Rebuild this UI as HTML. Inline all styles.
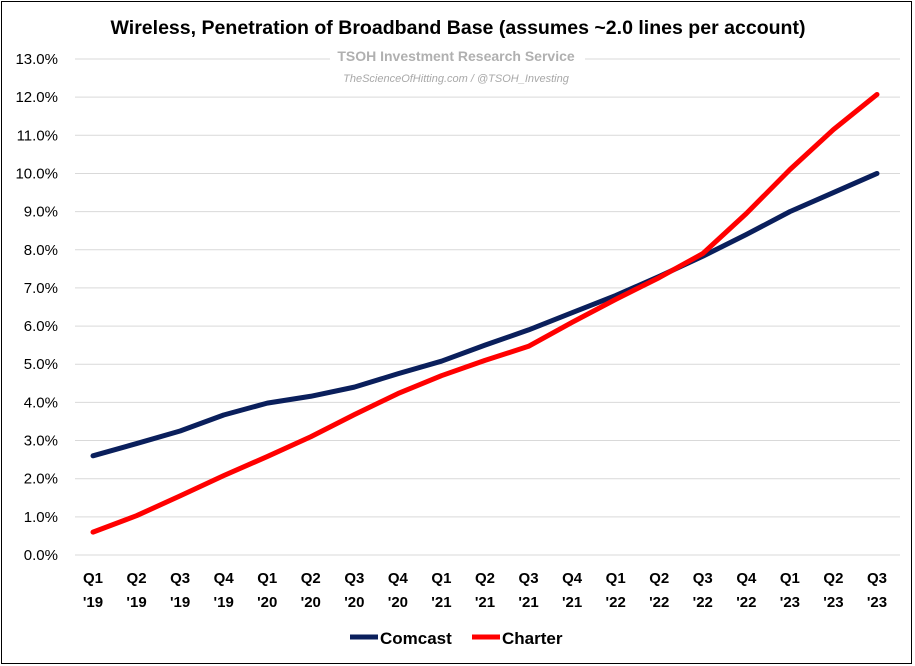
<!DOCTYPE html>
<html><head><meta charset="utf-8"><style>
body{margin:0;background:#fff;}
svg{display:block;font-family:"Liberation Sans Narrow","Liberation Sans",sans-serif;}
</style></head><body>
<svg id="c" width="915" height="666">
<rect x="1.5" y="1.5" width="910" height="662" fill="#fff" stroke="#000" stroke-width="1"/>
<text x="458" y="34" text-anchor="middle" font-size="19" font-weight="bold" textLength="695" lengthAdjust="spacingAndGlyphs" fill="#000">Wireless, Penetration of Broadband Base (assumes ~2.0 lines per account)</text>
<g id="grid"></g>
<g id="yl"></g>
<rect x="330" y="45" width="255" height="48" fill="#fff"/>
<text x="456" y="61" text-anchor="middle" font-size="14" font-weight="bold" fill="#b0b0b0">TSOH Investment Research Service</text>
<text x="456" y="82" text-anchor="middle" font-size="11" font-style="italic" fill="#a8a8a8">TheScienceOfHitting.com / @TSOH_Investing</text>
<g id="xl"></g>
<g id="lines"></g>
<g>
<line x1="350" y1="637" x2="378" y2="637" stroke="#0a1f5c" stroke-width="5"/>
<text x="380" y="644" font-size="17" font-weight="bold" fill="#000">Comcast</text>
<line x1="472" y1="637" x2="500" y2="637" stroke="#ff0000" stroke-width="5"/>
<text x="502" y="644" font-size="17" font-weight="bold" fill="#000">Charter</text>
</g>
</svg>
<script>
const quarters=["Q1","Q2","Q3","Q4","Q1","Q2","Q3","Q4","Q1","Q2","Q3","Q4","Q1","Q2","Q3","Q4","Q1","Q2","Q3"];
const years=["'19","'19","'19","'19","'20","'20","'20","'20","'21","'21","'21","'21","'22","'22","'22","'22","'23","'23","'23"];
const comcast=[2.6,2.92,3.25,3.67,3.98,4.16,4.4,4.75,5.08,5.5,5.9,6.35,6.8,7.3,7.83,8.4,9.0,9.5,10.0];
const charter=[0.6,1.03,1.55,2.08,2.58,3.1,3.68,4.23,4.7,5.1,5.47,6.1,6.7,7.27,7.9,8.95,10.1,11.15,12.07];
const yTicks=[0,1,2,3,4,5,6,7,8,9,10,11,12,13];
const NS="http://www.w3.org/2000/svg";
const x0=93,x1=877,y0=555,y13=59,gx0=75,gx1=900;
const X=i=>x0+i*(x1-x0)/(quarters.length-1);
const Y=v=>y0-v*(y0-y13)/13;
function mk(t,a,p){const e=document.createElementNS(NS,t);for(const k in a)e.setAttribute(k,a[k]);p.appendChild(e);return e;}
const grid=document.getElementById('grid'),yl=document.getElementById('yl'),xl=document.getElementById('xl'),lines=document.getElementById('lines');
yTicks.forEach(v=>{
 const l=mk('line',{x1:gx0,x2:gx1,y1:Y(v),y2:Y(v),stroke:'#d9d9d9','stroke-width':1},grid);
 
 
 const t=mk('text',{x:58,y:Y(v)+5,'text-anchor':'end','font-size':15,fill:'#000'},yl);
 t.textContent=v.toFixed(1)+'%';
 
 
});
quarters.forEach((q,i)=>{
 const t=mk('text',{x:X(i),y:583,'text-anchor':'middle','font-size':15,'font-weight':'bold',fill:'#000'},xl);
 t.textContent=q;
 
 
 const t2=mk('text',{x:X(i),y:607,'text-anchor':'middle','font-size':15,'font-weight':'bold',fill:'#000'},xl);
 t2.textContent=years[i];
 
 
});
function line(d,c,n){
 const p=mk('polyline',{points:d.map((v,i)=>X(i)+','+Y(v)).join(' '),fill:'none',stroke:c,'stroke-width':5,'stroke-linejoin':'round','stroke-linecap':'round'},lines);
 
 
}
line(comcast,'#0a1f5c','comcast-line');
line(charter,'#ff0000','charter-line');
</script>
</body></html>
